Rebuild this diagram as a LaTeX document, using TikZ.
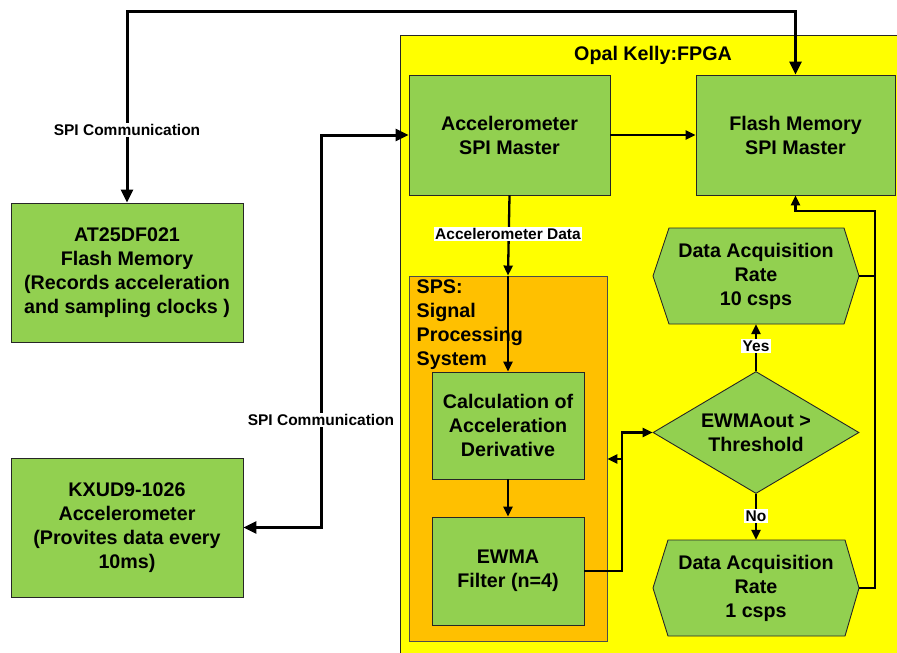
\documentclass[tikz,border=0pt]{standalone}
\usepackage{fontspec}
\setmainfont{Liberation Sans}
\usetikzlibrary{arrows.meta,shapes.geometric}
\definecolor{boxgreen}{HTML}{92D050}
\definecolor{fpgayellow}{HTML}{FFFF00}
\definecolor{spsorange}{HTML}{FFC000}
\newcommand\bigfnt{\fontsize{19.7}{24}\selectfont\bfseries}
\newcommand\smallfnt{\fontsize{15.5}{18}\selectfont\bfseries}
\tikzset{
  greenbox/.style={draw=black!85, line width=0.9pt, fill=boxgreen, align=center, font=\bigfnt, inner sep=0pt},
  hexshape/.style={draw=black!85, line width=0.9pt, fill=boxgreen},
  plaintext/.style={align=center, font=\bigfnt, inner sep=0pt},
  lbl/.style={fill=white, font=\smallfnt, inner sep=1.2pt},
  thickconn/.style={line width=3pt, {Triangle[length=13pt,width=12pt]}-{Triangle[length=13pt,width=12pt]}},
  conn/.style={line width=2.3pt, -{Triangle[length=10pt,width=9pt]}},
  plainconn/.style={line width=2.3pt},
}
\begin{document}
\begin{tikzpicture}[x=1pt,y=-1pt]
\useasboundingbox (0,0) rectangle (897,653);
\clip (0,0) rectangle (897,653);
\fill[white] (0,0) rectangle (897,653);
% FPGA area
\node[draw=black!85, line width=0.9pt, fill=fpgayellow, minimum width=510pt, minimum height=640pt, anchor=north west, inner sep=0pt] (fpga) at (400,35) {};
\node[plaintext] (fpgalbl) at (653,55) {Opal Kelly:FPGA};
% SPS area
\node[draw=black!70, line width=0.9pt, fill=spsorange, minimum width=198pt, minimum height=365pt, inner sep=0pt] (sps) at (508,458.5) {};
\node[plaintext, align=left, anchor=north west, font=\fontsize{19.7}{24}\selectfont\bfseries] (spslbl) at (416.5,279.5) {SPS:\\Signal\\Processing\\System};
% boxes
\node[greenbox, minimum width=201pt, minimum height=120pt] (accspi) at (509.5,135) {Accelerometer\\SPI Master};
\node[greenbox, minimum width=199pt, minimum height=120pt] (flashspi) at (795.5,135) {Flash Memory\\SPI Master};
\node[greenbox, minimum width=232pt, minimum height=139pt] (at25) at (127,272.5) {AT25DF021\\Flash Memory\\(Records acceleration\\and sampling clocks )};
\node[greenbox, minimum width=232pt, minimum height=139pt] (kxud) at (127,527.5) {KXUD9-1026\\Accelerometer\\(Provites data every\\10ms)};
\node[greenbox, minimum width=152pt, minimum height=107pt] (calc) at (508,425.5) {Calculation of\\Acceleration\\Derivative};
\node[greenbox, minimum width=152pt, minimum height=108pt] (ewma) at (508,571) {EWMA\\Filter (n=4)};
\node[greenbox, shape=diamond, aspect=1.69, minimum width=206pt, minimum height=122pt] (dia) at (756,432.5) {EWMAout >\\Threshold};
% hexagons
\path[hexshape] (653,276) -- (669,228) -- (844,228) -- (859,276) -- (844,324) -- (669,324) -- cycle;
\node[plaintext, minimum width=206pt, minimum height=96pt] (h1) at (756,276) {Data Acquisition\\Rate\\10 csps};
\path[hexshape] (653,588) -- (668,540) -- (845,540) -- (859,588) -- (845,636) -- (668,636) -- cycle;
\node[plaintext, minimum width=206pt, minimum height=96pt] (h2) at (756,588) {Data Acquisition\\Rate\\1 csps};
% coordinates
\coordinate (tl) at (127,11);
\coordinate (tr) at (795.5,11);
\coordinate (sc) at (321,330);
\coordinate (jx) at (622,500);
\coordinate (jb) at (622,459);
\coordinate (rx) at (875,400);
\coordinate (fx) at (795.5,211);
% connectors
\draw[thickconn] (at25.north) -- (tl) -- (tr) -- (flashspi.north);
\node[lbl] (spi1) at (127,130) {SPI Communication};
\draw[thickconn] (kxud.east) -| (sc) |- (accspi.west);
\node[lbl] (spi2) at (321,420) {SPI Communication};
\draw[conn] (accspi.east) -- (flashspi.west);
\draw[conn] (accspi.south) -- (sps.north);
\draw[conn] (sps.north) -- (calc.north);
\node[lbl] (accdata) at (508,234) {Accelerometer Data};
\draw[conn] (calc.south) -- (ewma.north);
\draw[conn] (ewma.east) -| (jx) |- (dia.west);
\draw[conn] (jb) -- (sps.east |- jb);
\draw[conn] (dia.north) -- (h1.south);
\node[lbl] (yes) at (756,346) {Yes};
\draw[conn] (dia.south) -- (h2.north);
\node[lbl] (no) at (756,516) {No};
\draw[conn] (h2.east) -| (rx) |- (fx) -- (flashspi.south);
\draw[plainconn] (h1.east) -- (h1.east -| rx);
\end{tikzpicture}
\end{document}
